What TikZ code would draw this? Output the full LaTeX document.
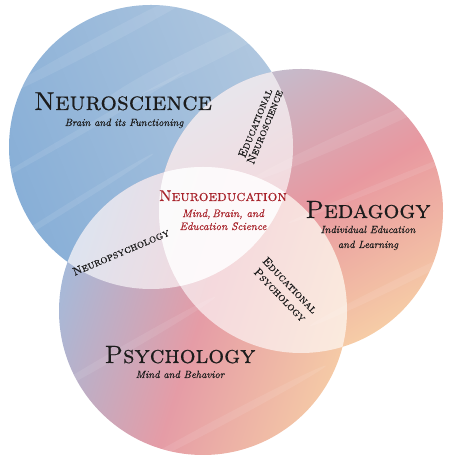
\documentclass[tikz,border=0pt]{standalone}
\usepackage{fontspec}
\usepackage{xcolor}
\newfontfamily\capsfont{lmromancaps10-regular.otf}[FakeBold=0.5]
\newfontfamily\slantfont{lmroman10-italic.otf}[FakeBold=0.35]
\definecolor{neuroL}{HTML}{88AFD7}
\definecolor{neuroR}{HTML}{B0C7DF}
\definecolor{pedTop}{HTML}{C3BDCE}
\definecolor{pedMid}{HTML}{E898A0}
\definecolor{pedBot}{HTML}{F6CCA6}
\definecolor{psyL}{HTML}{A7B9D8}
\definecolor{psyM}{HTML}{E59CA6}
\definecolor{psyR}{HTML}{F5CAA6}
\definecolor{inkred}{HTML}{A8232B}
\definecolor{ink}{HTML}{1C1C1C}

\tikzset{
  bigname/.style={font=\fontsize{25}{25}\selectfont\capsfont, text=ink, inner sep=0pt, anchor=base},
  subname/.style={font=\fontsize{10.5}{15}\selectfont\slantfont, text=ink, inner sep=0pt, anchor=base, align=center},
  midname/.style={font=\fontsize{15.5}{16}\selectfont\capsfont, text=inkred, inner sep=0pt, anchor=base},
  midsub/.style={font=\fontsize{11}{13}\selectfont\slantfont, text=inkred, inner sep=0pt, anchor=base, align=center},
  lenslabel/.style={font=\fontsize{11.5}{10.5}\selectfont\capsfont, text=ink, inner sep=0pt, align=center},
  lensfill/.style={white, fill opacity=0.62},
  streak/.style={white, fill opacity=0.09}
}

\begin{document}
\begin{tikzpicture}[x=1bp,y=1bp]
\useasboundingbox (0,0) rectangle (452,462);

% circle centres
\coordinate (N) at (151,315);
\coordinate (P) at (301,251);
\coordinate (S) at (203,151);

% watercolour discs (left/right colours: the angle counts from the vertical axis)
\shade[left color=neuroL, right color=neuroR, shading angle=112] (N) circle (142);
\shade[top color=pedTop, bottom color=pedBot, middle color=pedMid, shading angle=30] (P) circle (142);
\shade[left color=psyL, right color=psyR, middle color=psyM, shading angle=72] (S) circle (144);

% brush streaks inside each disc
\begin{scope}
  \clip (N) circle (142);
  \fill[streak, rotate around={28:(110,425)}] (110,425) ellipse (130 and 6);
  \fill[streak, rotate around={26:(200,405)}] (200,405) ellipse (110 and 10);
  \fill[streak, rotate around={30:(80,330)}] (80,330) ellipse (120 and 3);
  \fill[streak, rotate around={32:(60,250)}] (60,250) ellipse (110 and 3);
\end{scope}
\begin{scope}
  \clip (P) circle (142);
  \fill[streak, rotate around={24:(360,330)}] (360,330) ellipse (120 and 6);
  \fill[streak, rotate around={22:(390,280)}] (390,280) ellipse (110 and 3);
  \fill[streak, rotate around={26:(400,180)}] (400,180) ellipse (100 and 4);
\end{scope}
\begin{scope}
  \clip (S) circle (144);
  \fill[streak, rotate around={30:(120,110)}] (120,110) ellipse (110 and 4);
  \fill[streak, rotate around={28:(220,40)}] (220,40) ellipse (120 and 4);
\end{scope}

% pale overlaps of each pair of discs
\begin{scope}
  \clip (N) circle (142);
  \fill[lensfill] (P) circle (142);
\end{scope}
\begin{scope}
  \clip (N) circle (142);
  \fill[lensfill] (S) circle (144);
\end{scope}
\begin{scope}
  \clip (P) circle (142);
  \fill[lensfill] (S) circle (144);
\end{scope}

% field names
\node[bigname, font=\fontsize{26}{26}\selectfont\capsfont] (neuro) at (123,352) {Neuroscience};
\node[subname] (neurosub) at (124,336) {Brain and its Functioning};
\node[bigname] (ped) at (368,244) {Pedagogy};
\node[subname] (pedsub) at (368,214) {Individual Education\\and Learning};
\node[bigname] (psy) at (180,99) {Psychology};
\node[subname] (psysub) at (180,84) {Mind and Behavior};

% centre
\node[midname] (neuroed) at (223,261) {Neuroeducation};
\node[midsub] (neuroedsub) at (223,232) {Mind,\,Brain, and\\Education Science};

% overlap labels
\node[lenslabel, rotate=23] (neuropsy) at (121,210) {Neuropsychology};
\node[lenslabel, rotate=68] (edneuro) at (260,337) {Educational\\Neuroscience};
\node[lenslabel, rotate=-46, font=\fontsize{11.5}{14}\selectfont\capsfont] (edpsy) at (285,172) {Educational\\Psychology};
\end{tikzpicture}
\end{document}
